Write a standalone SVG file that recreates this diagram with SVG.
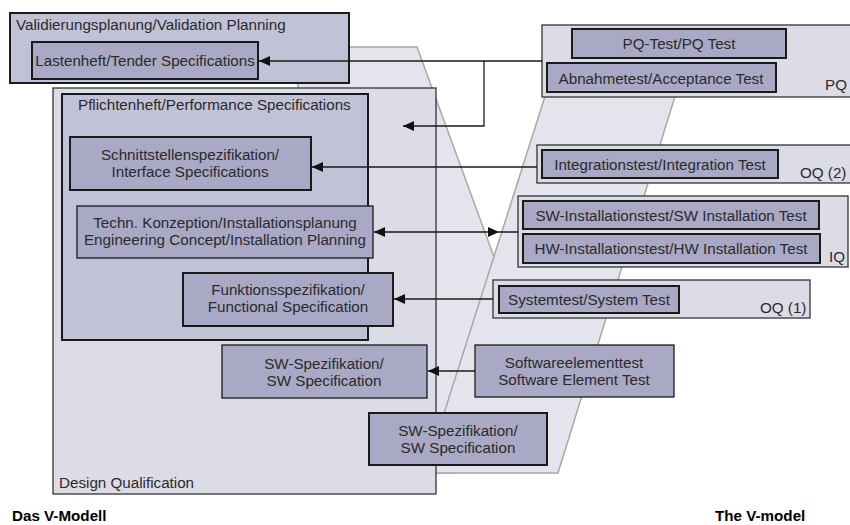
<svg xmlns="http://www.w3.org/2000/svg" width="850" height="525" viewBox="0 0 850 525">
<defs>
<marker id="ah" markerUnits="userSpaceOnUse" markerWidth="11" markerHeight="10" refX="11" refY="5" orient="auto">
<path d="M0,0 L11,5 L0,10 z" fill="#111"/>
</marker>
<style>
text{font-family:"Liberation Sans",Arial,sans-serif;font-size:15.2px;fill:#2a2a2a}
.c{text-anchor:middle}
.b{font-weight:bold;font-size:15.2px;fill:#000}
.dark{fill:#A9A9C6;stroke:#1a1a1a;stroke-width:2}
.darkt{fill:#A9A9C6;stroke:#1a1a1a;stroke-width:1.3}
.mid{fill:#C2C2D6;stroke:#1a1a1a;stroke-width:2}
.light{fill:#DCDCE7;stroke:#333;stroke-width:1.3}
.v{fill:#E4E4EC;stroke:#A8A8A8;stroke-width:1.5}
.ln{fill:none;stroke:#1a1a1a;stroke-width:1.3}
</style>
</defs>
<rect width="850" height="525" fill="#fff"/>
<g id="vshape">
<polygon class="v" points="298,47 417,47 494,257 455,473 298,473"/>
<polygon class="v" points="547,90 677,90 558,473 425,473"/>
</g>
<g id="validation-planning">
<rect class="mid" x="10" y="13" width="339" height="70"/>
<text x="16" y="30">Validierungsplanung/Validation Planning</text>
</g>
<g id="lastenheft">
<rect class="dark" x="32" y="42" width="226" height="37"/>
<text class="c" x="145" y="66">Lastenheft/Tender Specifications</text>
</g>
<g id="design-qualification">
<rect class="light" x="53" y="88" width="383" height="406"/>
<text x="59" y="488">Design Qualification</text>
</g>
<g id="pflichtenheft">
<rect class="mid" x="62" y="94" width="306" height="246"/>
<text x="78" y="110">Pflichtenheft/Performance Specifications</text>
</g>
<g id="schnittstellen">
<rect class="dark" x="70" y="137" width="241" height="53"/>
<text class="c" x="190" y="160">Schnittstellenspezifikation/</text>
<text class="c" x="190" y="177">Interface Specifications</text>
</g>
<g id="techn-konzeption">
<rect class="darkt" x="77" y="206" width="296" height="52"/>
<text class="c" x="225" y="228">Techn. Konzeption/Installationsplanung</text>
<text class="c" x="225" y="245">Engineering Concept/Installation Planning</text>
</g>
<g id="funktionsspezifikation">
<rect class="dark" x="183" y="273" width="210" height="53"/>
<text class="c" x="288" y="295">Funktionsspezifikation/</text>
<text class="c" x="288" y="312">Functional Specification</text>
</g>
<g id="sw-spezifikation-1">
<rect class="darkt" x="222" y="345" width="205" height="53"/>
<text class="c" x="324" y="369">SW-Spezifikation/</text>
<text class="c" x="324" y="386">SW Specification</text>
</g>
<g id="sw-spezifikation-2">
<rect class="dark" x="369" y="413" width="178" height="52"/>
<text class="c" x="458" y="436">SW-Spezifikation/</text>
<text class="c" x="458" y="453">SW Specification</text>
</g>
<g id="softwareelementtest">
<rect class="darkt" x="475" y="345" width="199" height="52"/>
<text class="c" x="574" y="368">Softwareelementtest</text>
<text class="c" x="574" y="385">Software Element Test</text>
</g>
<g id="pq">
<rect class="light" x="542" y="25" width="320" height="72"/>
<text x="825" y="90">PQ</text>
</g>
<g id="pq-test">
<rect class="dark" x="572" y="29" width="214" height="29"/>
<text class="c" x="679" y="49">PQ-Test/PQ Test</text>
</g>
<g id="abnahmetest">
<rect class="dark" x="547" y="63" width="229" height="29"/>
<text class="c" x="661" y="84">Abnahmetest/Acceptance Test</text>
</g>
<g id="oq2">
<rect class="light" x="537" y="145" width="320" height="38"/>
<text x="800" y="178">OQ (2)</text>
</g>
<g id="integrationstest">
<rect class="dark" x="542" y="150" width="236" height="28"/>
<text class="c" x="660" y="170">Integrationstest/Integration Test</text>
</g>
<g id="iq">
<rect class="light" x="518" y="196" width="330" height="71"/>
<text x="829" y="262">IQ</text>
</g>
<g id="sw-installationstest">
<rect class="dark" x="523" y="201" width="296" height="28"/>
<text class="c" x="671" y="221">SW-Installationstest/SW Installation Test</text>
</g>
<g id="hw-installationstest">
<rect class="dark" x="523" y="234" width="297" height="29"/>
<text class="c" x="671" y="254">HW-Installationstest/HW Installation Test</text>
</g>
<g id="oq1">
<rect class="light" x="493" y="280" width="317" height="38"/>
<text x="760" y="313">OQ (1)</text>
</g>
<g id="systemtest">
<rect class="dark" x="499" y="286" width="180" height="27"/>
<text class="c" x="589" y="305">Systemtest/System Test</text>
</g>
<g id="connectors">
<path class="ln" d="M542,61 H259" marker-end="url(#ah)"/>
<path class="ln" d="M484,61 V126 H403" marker-end="url(#ah)"/>
<path class="ln" d="M537,167 H312" marker-end="url(#ah)"/>
<path class="ln" d="M518,232 H374" marker-end="url(#ah)"/>
<polygon points="499,232 488,227 488,237" fill="#111"/>
<path class="ln" d="M493,299 H394" marker-end="url(#ah)"/>
<path class="ln" d="M475,371 H428" marker-end="url(#ah)"/>
</g>
<g id="titles">
<text class="b" x="12" y="521">Das V-Modell</text>
<text class="b" x="715" y="521">The V-model</text>
</g>
</svg>
